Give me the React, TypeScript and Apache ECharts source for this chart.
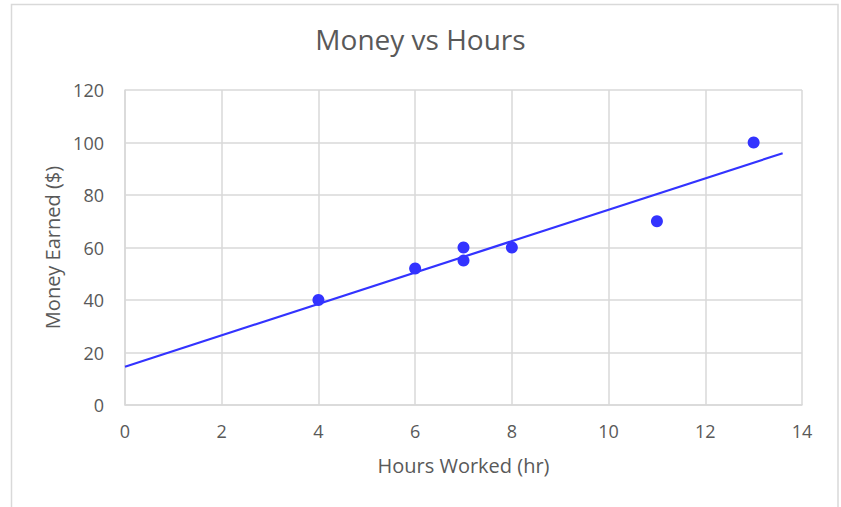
import React, { useEffect, useRef } from "react";
import * as echarts from "echarts";

const hoursWorked = [4, 6, 7, 7, 8, 11, 13];
const moneyEarned = [40, 52, 60, 55, 60, 70, 100];
const trendHours = [0, 13.6];
const trendMoney = [14.6, 95.9];

const FONT = "'Open Sans', sans-serif";
const TEXT = "#595959";
const GRID = "#d9d9d9";
const BLUE = "#3333ff";

export default function App() {
  const ref = useRef<HTMLDivElement>(null);
  useEffect(() => {
    document.body.style.margin = "0";
    const chart = echarts.init(ref.current!, null, { renderer: "svg" });
    chart.setOption({
      animation: false,
      backgroundColor: "#ffffff",
      title: {
        text: "Money vs Hours",
        left: "center",
        top: 20,
        textStyle: { fontFamily: FONT, fontSize: 28, fontWeight: "normal", color: TEXT },
      },
      graphic: [
        {
          type: "rect",
          shape: { x: 11.5, y: 4.5, width: 826.5, height: 520 },
          style: { fill: "none", stroke: GRID, lineWidth: 1.5 },
          silent: true,
        },
      ],
      grid: { left: 125, right: 39, top: 90, bottom: 102 },
      xAxis: {
        type: "value",
        min: 0,
        max: 14,
        interval: 2,
        name: "Hours Worked (hr)",
        nameLocation: "middle",
        nameGap: 50,
        nameTextStyle: { fontFamily: FONT, fontSize: 20, color: TEXT },
        axisLine: { show: true, lineStyle: { color: GRID, width: 1.5 } },
        axisTick: { show: false },
        axisLabel: { fontFamily: FONT, fontSize: 18, color: TEXT, margin: 17 },
        splitLine: { show: true, lineStyle: { color: GRID, width: 1.5 } },
      },
      yAxis: {
        type: "value",
        min: 0,
        max: 120,
        interval: 20,
        name: "Money Earned ($)",
        nameLocation: "middle",
        nameGap: 58,
        nameRotate: 90,
        nameTextStyle: { fontFamily: FONT, fontSize: 20, color: TEXT },
        axisLine: { show: true, lineStyle: { color: GRID, width: 1.5 } },
        axisTick: { show: false },
        axisLabel: { fontFamily: FONT, fontSize: 18, color: TEXT, margin: 21 },
        splitLine: { show: true, lineStyle: { color: GRID, width: 1.5 } },
      },
      series: [
        {
          type: "line",
          data: trendHours.map((h, i) => [h, trendMoney[i]]),
          showSymbol: false,
          symbol: "none",
          lineStyle: { color: BLUE, width: 2.2 },
          silent: true,
          z: 2,
        },
        {
          type: "scatter",
          data: hoursWorked.map((h, i) => [h, moneyEarned[i]]),
          symbol: "circle",
          symbolSize: 12,
          itemStyle: { color: BLUE, opacity: 1 },
          z: 3,
        },
      ],
    });
    return () => chart.dispose();
  }, []);
  return (
    <div
      ref={ref}
      style={{ position: "absolute", left: 0, top: 0, width: 841, height: 507 }}
    />
  );
}
